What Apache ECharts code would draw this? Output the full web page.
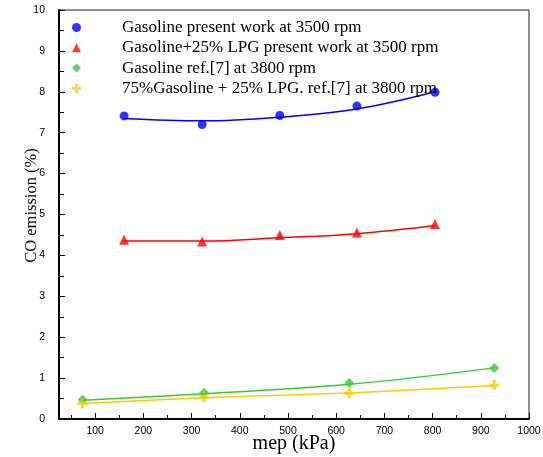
<!DOCTYPE html>
<html>
<head>
<meta charset="utf-8">
<script src="https://cdn.jsdelivr.net/npm/echarts@6/dist/echarts.min.js"></script>
<style>
  html, body { margin: 0; padding: 0; background: #fff; }
  #coChart { width: 543px; height: 457px; }
</style>
</head>
<body>
<div id="coChart"></div>
<script>
// measured points
var gasolineMep = [160, 322, 483, 643, 805];
var gasolineCO = [7.41, 7.20, 7.42, 7.65, 7.99];
var lpgMep = [160, 322, 483, 643, 805];
var lpgCO = [4.38, 4.34, 4.50, 4.56, 4.77];
var refGasMep = [74, 326, 627, 928];
var refGasCO = [0.47, 0.64, 0.88, 1.25];
var refLpgMep = [74, 326, 627, 928];
var refLpgCO = [0.38, 0.53, 0.63, 0.83];

// fitted curves
var gasolineFit = [7.35, 7.29, 7.38, 7.58, 8.00];
var lpgFit = [4.35, 4.35, 4.43, 4.53, 4.73];
var refGasFit = [0.46, 0.62, 0.85, 1.25];
var refLpgFit = [0.38, 0.52, 0.64, 0.82];

var legendNames = [
    'Gasoline present work at 3500 rpm',
    'Gasoline+25% LPG present work at 3500 rpm',
    'Gasoline ref.[7] at 3800 rpm',
    '75%Gasoline + 25% LPG. ref.[7] at 3800 rpm'
];
var majorTicks = [100, 200, 300, 400, 500, 600, 700, 800, 900, 1000];
var minorTicks = [50, 150, 250, 350, 450, 550, 650, 750, 850, 950];

var plusIcon = 'path://M3.4,0h3.2v3.4h3.4v3.2h-3.4v3.4h-3.2v-3.4h-3.4v-3.2h3.4z';

function pairs(xs, ys) {
    return xs.map(function (x, i) { return [x, ys[i]]; });
}

var chartDom = document.getElementById('coChart');
var myChart = echarts.init(chartDom);

var option = {
    backgroundColor: '#fff',
    animation: false,
    grid: {
        left: 59,
        right: 14,
        top: 10,
        bottom: 38,
        outerBoundsMode: 'none',
        containLabel: false,
        show: true,
        borderColor: '#222',
        borderWidth: 1
    },
    legend: {
        data: legendNames,
        orient: 'vertical',
        left: 67,
        top: 14,
        itemWidth: 9,
        itemHeight: 9,
        itemGap: 3.3,
        textStyle: {
            fontFamily: 'Liberation Serif',
            fontSize: 17,
            color: '#000',
            lineHeight: 17,
            padding: [0, 0, 0, 36]
        }
    },
    xAxis: [
    {
        type: 'value',
        min: 25,
        max: 1000,
        name: 'mep (kPa)',
        nameLocation: 'middle',
        nameGap: 15,
        nameMoveOverlap: false,
        nameTextStyle: {
            fontFamily: 'Liberation Serif',
            fontSize: 20,
            color: '#000'
        },
        splitLine: { show: false },
        axisLine: { lineStyle: { color: '#000', width: 2 } },
        axisTick: {
            inside: true,
            length: 6,
            customValues: majorTicks,
            lineStyle: { color: '#000', width: 1 }
        },
        axisLabel: {
            customValues: majorTicks,
            margin: 7,
            formatter: function (v) { return String(v); },
            fontFamily: 'Liberation Sans',
            fontSize: 10.5,
            color: '#000'
        }
    },
    {
        type: 'value',
        min: 25,
        max: 1000,
        position: 'bottom',
        splitLine: { show: false },
        axisLine: { show: false },
        axisTick: {
            inside: true,
            length: 4,
            customValues: minorTicks,
            lineStyle: { color: '#000', width: 1 }
        },
        axisLabel: { show: false }
    }
    ],
    yAxis: {
        type: 'value',
        min: 0,
        max: 10,
        interval: 1,
        name: 'CO emission (%)',
        nameLocation: 'middle',
        nameGap: 19,
        nameMoveOverlap: false,
        nameTextStyle: {
            fontFamily: 'Liberation Serif',
            fontSize: 16.5,
            color: '#000',
            padding: [0, 0, 0, 18]
        },
        splitLine: { show: false },
        axisLine: { lineStyle: { color: '#000', width: 2 } },
        axisTick: {
            inside: true,
            length: 6,
            lineStyle: { color: '#000', width: 1 }
        },
        minorTick: {
            show: true,
            splitNumber: 2,
            length: 5,
            lineStyle: { color: '#000', width: 1 }
        },
        axisLabel: {
            margin: 14,
            fontFamily: 'Liberation Sans',
            fontSize: 10.5,
            color: '#000'
        }
    },
    series: [
    {
        name: 'gasolineFit',
        type: 'line',
        data: pairs(gasolineMep, gasolineFit),
        smooth: 0.4,
        showSymbol: false,
        silent: true,
        lineStyle: { color: '#0000ff', width: 1.5 }
    },
    {
        name: 'lpgFit',
        type: 'line',
        data: pairs(lpgMep, lpgFit),
        smooth: 0.4,
        showSymbol: false,
        silent: true,
        lineStyle: { color: '#ff0000', width: 1.5 }
    },
    {
        name: 'refGasFit',
        type: 'line',
        data: pairs(refGasMep, refGasFit),
        smooth: 0.4,
        showSymbol: false,
        silent: true,
        lineStyle: { color: '#33cc33', width: 1.5 }
    },
    {
        name: 'refLpgFit',
        type: 'line',
        data: pairs(refLpgMep, refLpgFit),
        smooth: 0.4,
        showSymbol: false,
        silent: true,
        lineStyle: { color: '#ffcc00', width: 1.5 }
    },
    {
        name: legendNames[0],
        type: 'scatter',
        data: pairs(gasolineMep, gasolineCO),
        symbol: 'circle',
        symbolSize: 9,
        itemStyle: { color: '#0000ff' }
    },
    {
        name: legendNames[1],
        type: 'scatter',
        data: pairs(lpgMep, lpgCO),
        symbol: 'triangle',
        symbolSize: 10,
        itemStyle: { color: '#ff0000' }
    },
    {
        name: legendNames[2],
        type: 'scatter',
        data: pairs(refGasMep, refGasCO),
        symbol: 'diamond',
        symbolSize: 10,
        itemStyle: { color: '#33cc33' }
    },
    {
        name: legendNames[3],
        type: 'scatter',
        data: pairs(refLpgMep, refLpgCO),
        symbol: plusIcon,
        symbolSize: 10,
        itemStyle: { color: '#ffcc00' }
    }
    ]
};

option && myChart.setOption(option);
</script>
</body>
</html>
